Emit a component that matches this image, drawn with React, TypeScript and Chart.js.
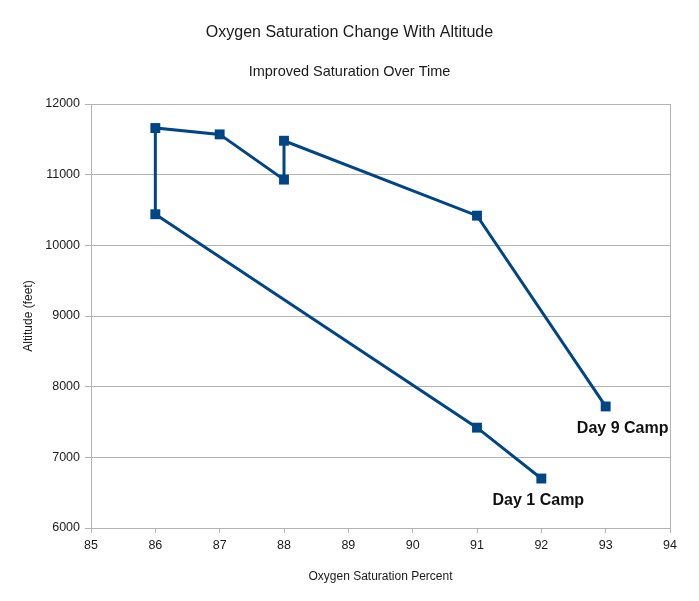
import React, { useEffect, useRef } from "react";
import { Chart, registerables } from "chart.js";

Chart.register(...registerables);

const chartTitle = "Oxygen Saturation Change With Altitude";
const chartSubtitle = "Improved Saturation Over Time";
const xAxisTitle = "Oxygen Saturation Percent";
const yAxisTitle = "Altitude (feet)";

const saturation = [92, 91, 86, 86, 87, 88, 88, 91, 93];
const altitude = [6700, 7420, 10440, 11660, 11570, 10930, 11480, 10420, 7720];
const pointLabels = ["Day 1 Camp", "", "", "", "", "", "", "", "Day 9 Camp"];

const xMin = 85;
const xMax = 94;
const yMin = 6000;
const yMax = 12000;

const FONT = '"Liberation Sans", Arial, sans-serif';
const LINE = "#004586";
const GRID = "#b3b3b3";
const TEXT = "#1a1a1a";

const labelOffsets: Record<number, [number, number]> = {
  0: [-3, 22],
  8: [17, 22],
};

const pointLabelPlugin = {
  id: "pointLabelPlugin",
  afterDatasetsDraw(chart: any) {
    const meta = chart.getDatasetMeta(0);
    const ctx = chart.ctx;
    ctx.save();
    ctx.font = `bold 16px ${FONT}`;
    ctx.fillStyle = "#111111";
    ctx.textAlign = "center";
    ctx.textBaseline = "middle";
    pointLabels.forEach((t, i) => {
      if (!t) return;
      const el = meta.data[i];
      if (!el) return;
      const off = labelOffsets[i] || [0, 22];
      ctx.fillText(t, el.x + off[0], el.y + off[1]);
    });
    ctx.restore();
  },
};

export default function App() {
  const ref = useRef<HTMLCanvasElement | null>(null);

  useEffect(() => {
    if (!ref.current) return;
    const data = saturation.map((x, i) => ({ x, y: altitude[i] }));
    const chart = new Chart(ref.current, {
      type: "scatter",
      data: {
        datasets: [
          {
            label: "Altitude",
            data,
            showLine: true,
            borderColor: LINE,
            backgroundColor: LINE,
            borderWidth: 3,
            pointStyle: "rect",
            pointRadius: 7,
            pointHoverRadius: 7,
            pointBorderWidth: 0,
            tension: 0,
            xAxisID: "x",
            yAxisID: "y",
          },
        ],
      },
      options: {
        animation: false,
        responsive: true,
        maintainAspectRatio: false,
        layout: { padding: 0 },
        plugins: {
          legend: { display: false },
          tooltip: { enabled: false },
          title: {
            display: true,
            text: chartTitle,
            color: TEXT,
            font: { family: FONT, size: 16, weight: "normal" },
            padding: { top: 23, bottom: 9 },
          },
          subtitle: {
            display: true,
            text: chartSubtitle,
            color: TEXT,
            font: { family: FONT, size: 14.5, weight: "normal" },
            padding: { top: 12.5, bottom: 22.9 },
          },
        },
        scales: {
          x: {
            type: "linear",
            position: "bottom",
            min: xMin,
            max: xMax,
            ticks: {
              stepSize: 1,
              color: TEXT,
              font: { family: FONT, size: 12.5 },
              padding: 5,
              maxRotation: 0,
            },
            grid: {
              color: (c: any) =>
                c.tick && (c.tick.value === xMin || c.tick.value === xMax) ? GRID : "rgba(0,0,0,0)",
              tickColor: GRID,
              tickLength: 5,
              lineWidth: 1,
            },
            border: { display: true, color: GRID },
            title: {
              display: true,
              text: xAxisTitle,
              color: TEXT,
              font: { family: FONT, size: 12 },
              padding: { top: 0, bottom: 17 },
            },
            afterFit: (s: any) => {
              s.height = 73;
            },
          },
          y: {
            type: "linear",
            position: "left",
            min: yMin,
            max: yMax,
            ticks: {
              stepSize: 1000,
              color: TEXT,
              font: { family: FONT, size: 12.5 },
              padding: 5,
              callback: (v: any) => String(v),
            },
            grid: {
              color: GRID,
              tickColor: GRID,
              tickLength: 6,
              lineWidth: 1,
            },
            border: { display: true, color: GRID },
            title: {
              display: true,
              text: yAxisTitle,
              color: TEXT,
              font: { family: FONT, size: 12 },
              padding: { top: 21, bottom: 0 },
            },
            afterFit: (s: any) => {
              s.width = 91;
            },
          },
          yRight: {
            type: "linear",
            position: "right",
            display: true,
            ticks: { display: false },
            grid: { display: false, drawTicks: false },
            border: { display: false },
            afterFit: (s: any) => {
              s.width = 29;
            },
          },
        },
      },
      plugins: [pointLabelPlugin],
    });
    return () => chart.destroy();
  }, []);

  return (
    <div
      style={{
        position: "fixed",
        left: 0,
        top: 0,
        width: 699,
        height: 601,
        background: "#ffffff",
      }}
    >
      <canvas ref={ref} />
    </div>
  );
}
